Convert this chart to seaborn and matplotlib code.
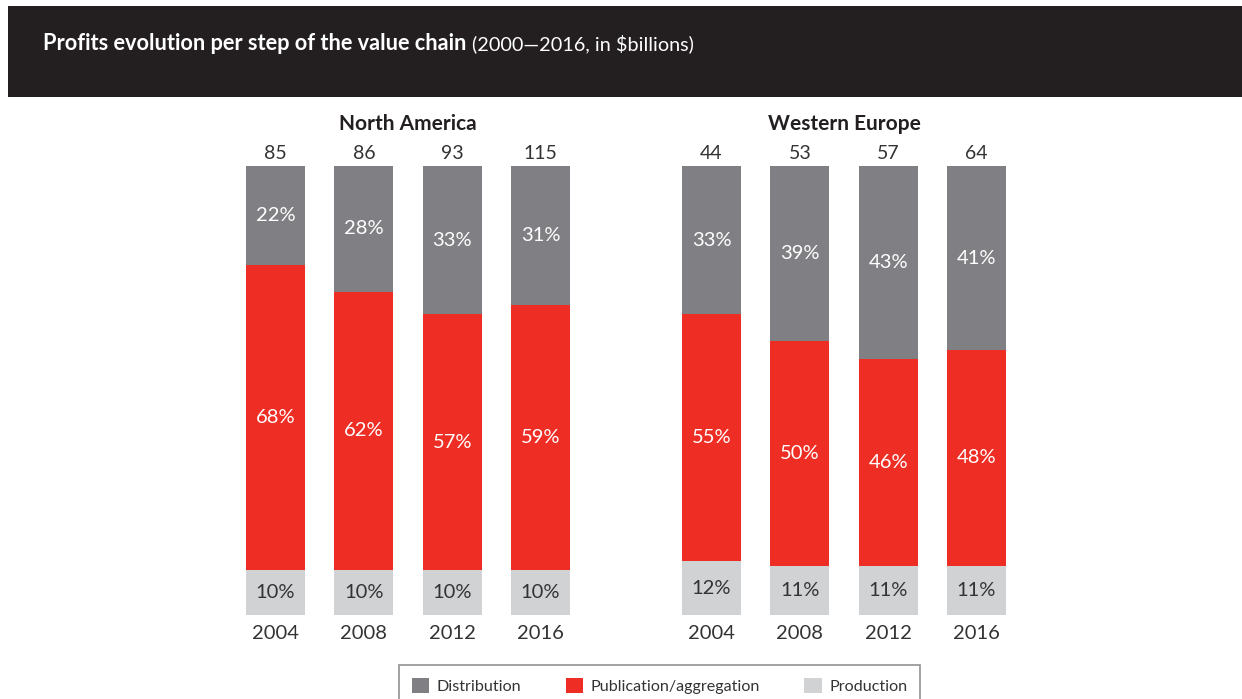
import matplotlib
matplotlib.use("Agg")
import matplotlib.pyplot as plt
from matplotlib.patches import Patch, Rectangle
import seaborn as sns
import pandas as pd

# Profit shares per step of the value chain (percent of total), and totals in $bn
years = ["2004", "2008", "2012", "2016"]
regions = ["North America", "Western Europe"]

na_total = [85, 86, 93, 115]
na_distribution = [22, 28, 33, 31]
na_publication = [68, 62, 57, 59]
na_production = [10, 10, 10, 10]

we_total = [44, 53, 57, 64]
we_distribution = [33, 39, 43, 41]
we_publication = [55, 50, 46, 48]
we_production = [12, 11, 11, 11]

series_names = ["Distribution", "Publication/aggregation", "Production"]

C_DIST = "#808084"
C_PUB = "#EE2D24"
C_PROD = "#D1D2D4"
C_TEXT = "#333333"
FONT = "Lato"

sns.set_theme(style="white")
plt.rcParams["font.family"] = [FONT, "DejaVu Sans"]

W, H = 1242, 699
fig = plt.figure(figsize=(W / 100, H / 100), dpi=100)
fig.patch.set_facecolor("white")

# Dark header band with the title
fig.add_artist(Rectangle((8 / W, 1 - 97 / H), 1 - 8 / W, (97 - 6) / H,
                         transform=fig.transFigure, facecolor="#231F20",
                         edgecolor="none", zorder=0))
t1 = fig.text(43 / W, 1 - 44 / H, "Profits evolution per step of the value chain",
              color="white", fontsize=15.7, fontweight="bold", va="center", ha="left")
renderer = fig.canvas.get_renderer()
bb = t1.get_window_extent(renderer=renderer)
fig.text(bb.x1 / W + 6 / W, 1 - 44 / H, "(2000\u20142016, in $billions)",
         color="white", fontsize=14.3, va="center", ha="left")

panels = [
    (regions[0], na_total, na_distribution, na_publication, na_production, 231.3),
    (regions[1], we_total, we_distribution, we_publication, we_production, 667.3),
]

ax_w = 353.4 / W
ax_b = (H - 615) / H
ax_h = (615 - 166) / H

for name, total, dist, pub, prod, left_px in panels:
    ax = fig.add_axes([left_px / W, ax_b, ax_w, ax_h])
    df = pd.DataFrame({"year": years, "dist": dist, "pub": pub, "prod": prod})
    df["top"] = df["dist"] + df["pub"] + df["prod"]
    df["mid"] = df["pub"] + df["prod"]
    # Stack by overlaying cumulative heights
    for col, color in [("top", C_DIST), ("mid", C_PUB), ("prod", C_PROD)]:
        sns.barplot(data=df, x="year", y=col, color=color, saturation=1,
                    width=0.668, linewidth=0, ax=ax)
    ax.set_xlim(-0.5, 3.5)
    ax.set_ylim(0, 100)
    for i in range(len(years)):
        d, p, r = dist[i], pub[i], prod[i]
        ax.text(i, r / 2, f"{r}%", ha="center", va="center", color=C_TEXT, fontsize=14.5)
        ax.text(i, r + p / 2, f"{p}%", ha="center", va="center", color="white", fontsize=14.5)
        ax.text(i, r + p + d / 2, f"{d}%", ha="center", va="center", color="white", fontsize=14.5)
        ax.annotate(str(total[i]), xy=(i, 100), xytext=(0, 3), textcoords="offset points",
                    ha="center", va="bottom", color=C_TEXT, fontsize=14)
    ax.annotate(name, xy=(0.5, 1), xycoords="axes fraction", xytext=(0, 23),
                textcoords="offset points", ha="center", va="bottom",
                fontsize=15, fontweight="bold", color="#231F20")
    ax.set_xlabel("")
    ax.set_ylabel("")
    ax.set_yticks([])
    ax.tick_params(axis="x", length=0, pad=7, labelsize=14.5, labelcolor=C_TEXT)
    sns.despine(ax=ax, left=True, bottom=True)
    ax.set_facecolor("none")

handles = [Patch(facecolor=c, edgecolor="none") for c in (C_DIST, C_PUB, C_PROD)]
leg = fig.legend(handles, series_names, loc="upper center",
                 bbox_to_anchor=(659.5 / W, 1 - 665 / H), ncol=3, frameon=True,
                 fancybox=False, fontsize=11.6, handlelength=1.1, handleheight=1.1,
                 handletextpad=0.45, columnspacing=2.75, borderpad=0.8,
                 borderaxespad=0, labelcolor=C_TEXT)
leg.get_frame().set_edgecolor("#777777")
leg.get_frame().set_linewidth(1.2)

fig.savefig("out.png", dpi=100, facecolor="white")
